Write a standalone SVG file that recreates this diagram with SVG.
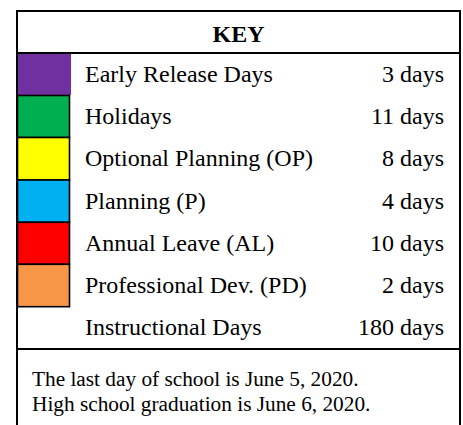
<svg xmlns="http://www.w3.org/2000/svg" width="463" height="425" viewBox="0 0 463 425">
<style>
.t{font-family:"Liberation Serif","Times New Roman",serif;font-size:24px;fill:#000}
.r{text-anchor:end}
.f{font-family:"Liberation Serif","Times New Roman",serif;font-size:21.3px;fill:#000}
.b{stroke:#000;stroke-width:1.6}
.ln{stroke:#000;stroke-width:2;fill:none}
</style>
<rect width="463" height="425" fill="#fff"/>
<g id="frame">
<path class="ln" d="M17 425 V11 H460 V425"/>
<line class="ln" x1="17" y1="53" x2="460" y2="53"/>
<line class="ln" x1="17" y1="349" x2="460" y2="349"/>
</g>
<g id="title"><text x="238.5" y="42" text-anchor="middle" style="font-family:'Liberation Serif','Times New Roman',serif;font-size:24px;font-weight:bold">KEY</text></g>
<g id="row-early"><rect x="18" y="54" width="53" height="41" fill="#7030a0"/><text class="t" x="85" y="82">Early Release Days</text><text class="t r" x="444" y="82">3 days</text></g>
<g id="row-holidays"><rect class="b" x="17.5" y="95.5" width="52" height="42" fill="#00b050"/><text class="t" x="85" y="124.2">Holidays</text><text class="t r" x="444" y="124.2">11 days</text></g>
<g id="row-op"><rect class="b" x="17.5" y="137.5" width="52" height="42.5" fill="#ffff00"/><text class="t" x="85" y="166.4">Optional Planning (OP)</text><text class="t r" x="444" y="166.4">8 days</text></g>
<g id="row-p"><rect class="b" x="17.5" y="180" width="52" height="42.3" fill="#00b0f0"/><text class="t" x="85" y="208.6">Planning (P)</text><text class="t r" x="444" y="208.6">4 days</text></g>
<g id="row-al"><rect class="b" x="17.5" y="222.3" width="52" height="42" fill="#ff0000"/><text class="t" x="85" y="250.8">Annual Leave (AL)</text><text class="t r" x="444" y="250.8">10 days</text></g>
<g id="row-pd"><rect class="b" x="17.5" y="264.3" width="52" height="42.4" fill="#f79646"/><text class="t" x="85" y="293">Professional Dev. (PD)</text><text class="t r" x="444" y="293">2 days</text></g>
<g id="row-instr"><text class="t" x="85" y="335.2">Instructional Days</text><text class="t r" x="444" y="335.2">180 days</text></g>
<g id="footer"><text class="f" x="32" y="386">The last day of school is June 5, 2020.</text><text class="f" x="32" y="410.7">High school graduation is June 6, 2020.</text></g>
</svg>
